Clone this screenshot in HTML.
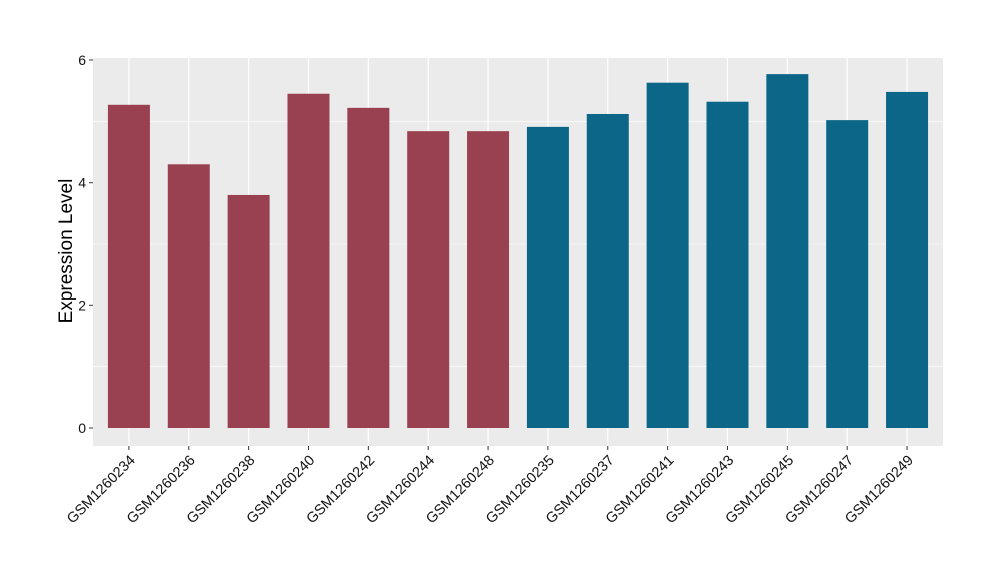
<!DOCTYPE html>
<html><head><meta charset="utf-8"><style>
body{margin:0;background:#fff;}
svg{display:block;font-family:"Liberation Sans",Arial,sans-serif;}
</style></head><body>
<svg width="1000" height="580" viewBox="0 0 1000 580">
<rect x="93" y="58" width="850" height="388" fill="#EBEBEB"/>
<g stroke="#fff" stroke-width="0.6">
<line x1="93" x2="943" y1="366.7" y2="366.7"/>
<line x1="93" x2="943" y1="244" y2="244"/>
<line x1="93" x2="943" y1="121.3" y2="121.3"/>
</g>
<g stroke="#fff" stroke-width="1.2" id="grid"></g>
<g id="bars"></g>
<g id="labels" font-size="14.5" fill="#111"></g>
<g font-size="14" fill="#111" text-anchor="end">
<text x="86" y="433">0</text>
<text x="86" y="310.3">2</text>
<text x="86" y="187.7">4</text>
<text x="86" y="65">6</text>
</g>
<g stroke="#333" stroke-width="1">
<line x1="89" x2="93" y1="428" y2="428"/>
<line x1="89" x2="93" y1="305.3" y2="305.3"/>
<line x1="89" x2="93" y1="182.7" y2="182.7"/>
<line x1="89" x2="93" y1="60" y2="60"/>
</g>
<text x="0" y="0" font-size="19" text-anchor="middle" transform="translate(72,251) rotate(-90)">Expression Level</text>
<script>
var names=["GSM1260234","GSM1260236","GSM1260238","GSM1260240","GSM1260242","GSM1260244","GSM1260248","GSM1260235","GSM1260237","GSM1260241","GSM1260243","GSM1260245","GSM1260247","GSM1260249"];
var vals=[5.27,4.30,3.80,5.45,5.22,4.84,4.84,4.91,5.12,5.63,5.32,5.77,5.02,5.48];
var ns="http://www.w3.org/2000/svg";
var g=document.getElementById("grid"),b=document.getElementById("bars"),l=document.getElementById("labels");
for(var i=0;i<14;i++){
 var cx=93+(0.6+i)*59.857;
 var ln=document.createElementNS(ns,"line");ln.setAttribute("x1",cx);ln.setAttribute("x2",cx);ln.setAttribute("y1",58);ln.setAttribute("y2",446);g.appendChild(ln);
 var h=vals[i]*61.33;
 var r=document.createElementNS(ns,"rect");r.setAttribute("x",cx-21);r.setAttribute("width",42);r.setAttribute("y",428-h);r.setAttribute("height",h);r.setAttribute("fill",i<7?"#9A4151":"#0B6688");b.appendChild(r);
 var t=document.createElementNS(ns,"line");t.setAttribute("x1",cx);t.setAttribute("x2",cx);t.setAttribute("y1",446);t.setAttribute("y2",450);t.setAttribute("stroke","#333");b.appendChild(t);
 var tx=document.createElementNS(ns,"text");tx.setAttribute("text-anchor","end");tx.setAttribute("transform","translate("+(cx+7)+",461) rotate(-45)");tx.textContent=names[i];l.appendChild(tx);
}
</script>
</svg>
</body></html>
